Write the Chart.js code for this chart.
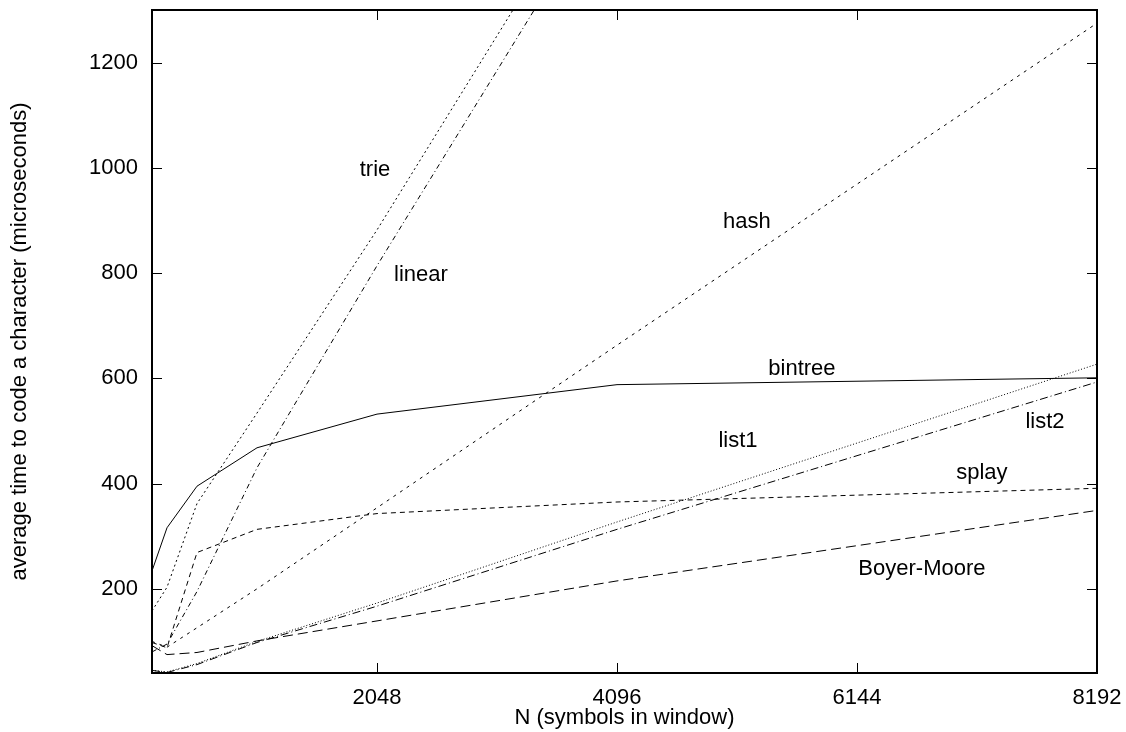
<!DOCTYPE html>
<html>
<head>
<meta charset="utf-8">
<script src="https://cdn.jsdelivr.net/npm/chart.js@4.4.0/dist/chart.umd.min.js"></script>
<style>
  html, body { margin:0; padding:0; background:#fff; }
</style>
</head>
<body>
<canvas id="chart" width="1126" height="732"></canvas>
<script>
// window sizes N (x values)
const windowSizes = [128, 256, 512, 1024, 2048, 4096, 8192];

// average time to code a character (microseconds)
const bintree    = [234, 316, 395, 468, 532, 588, 601];
const trie       = [158, 203, 362, 534, 882, 1620, 3100];
const linear     = [80, 95, 195, 430, 814, 1556, 3040];
const hash       = [100, 89, 126, 200, 354, 663, 1275];
const splay      = [98, 88, 269, 313, 343, 365, 391];
const boyerMoore = [92, 75, 79, 101, 139, 215, 349];
const list1      = [45, 42, 58, 100, 173, 327, 627];
const list2      = [45, 41, 56, 98, 167, 313, 593];

const xTicks = [2048, 4096, 6144, 8192];
const yTicks = [200, 400, 600, 800, 1000, 1200];

// curve names, anchored in data coordinates
const labelNames = ['trie', 'linear', 'hash', 'bintree', 'list1', 'list2', 'splay', 'Boyer-Moore'];
const labelN     = [2031, 2423, 5205, 5674, 5128, 7748, 7210, 6698];
const labelTime  = [996, 797, 898, 617, 481, 517, 420, 238];

const FONT = '"Liberation Sans", Arial, Helvetica, sans-serif';

function series(values, dash) {
    return {
        data: windowSizes.map((n, i) => ({x: n, y: values[i]})),
        borderColor: '#000',
        borderWidth: 1,
        borderDash: dash,
        pointRadius: 0,
        tension: 0,
        fill: false
    };
}

// frame, inward mirrored ticks and the curve names
const framePlugin = {
    id: 'frame',
    afterDraw(chart) {
        const {ctx, chartArea: a} = chart;
        const x = chart.scales.x, y = chart.scales.y;
        ctx.save();
        ctx.strokeStyle = '#000';
        ctx.setLineDash([]);
        ctx.lineWidth = 1;
        ctx.beginPath();
        xTicks.forEach(v => {
            const px = Math.round(x.getPixelForValue(v)) + 0.5;
            ctx.moveTo(px, a.bottom); ctx.lineTo(px, a.bottom - 10);
            ctx.moveTo(px, a.top); ctx.lineTo(px, a.top + 10);
        });
        yTicks.forEach(v => {
            const py = Math.round(y.getPixelForValue(v)) + 0.5;
            ctx.moveTo(a.left, py); ctx.lineTo(a.left + 10, py);
            ctx.moveTo(a.right, py); ctx.lineTo(a.right - 10, py);
        });
        ctx.stroke();
        ctx.lineWidth = 2;
        ctx.strokeRect(a.left, a.top, a.right - a.left, a.bottom - a.top);

        ctx.fillStyle = '#000';
        ctx.font = '22px ' + FONT;
        ctx.textAlign = 'center';
        ctx.textBaseline = 'middle';
        labelNames.forEach((t, i) => {
            ctx.fillText(t, x.getPixelForValue(labelN[i]), y.getPixelForValue(labelTime[i]));
        });
        ctx.restore();
    }
};

new Chart(document.getElementById('chart').getContext('2d'), {
    type: 'line',
    data: {
        datasets: [
            series(bintree, []),
            series(trie, [2, 3]),
            series(linear, [5, 3, 1, 3]),
            series(hash, [3, 5]),
            series(splay, [5, 4]),
            series(boyerMoore, [10, 5]),
            series(list1, [1, 2]),
            series(list2, [8, 3, 1, 3])
        ]
    },
    options: {
        responsive: false,
        animation: false,
        layout: {padding: {left: 0, right: 29, top: 10, bottom: 0}},
        plugins: {legend: {display: false}, tooltip: {enabled: false}},
        scales: {
            x: {
                type: 'linear', min: 128, max: 8192,
                grid: {display: false, drawTicks: false},
                border: {display: false},
                afterBuildTicks: s => { s.ticks = xTicks.map(v => ({value: v})); },
                afterFit: s => { s.height = 59; s.paddingLeft = 0; s.paddingRight = 0; },
                ticks: {padding: 12, color: '#000', maxRotation: 0, autoSkip: false,
                        font: {family: FONT, size: 22}, callback: v => String(v)},
                title: {display: true, text: 'N (symbols in window)', color: '#000',
                        font: {family: FONT, size: 22}, padding: {top: 0, bottom: 1}}
            },
            y: {
                min: 40, max: 1300,
                grid: {display: false, drawTicks: false},
                border: {display: false},
                afterBuildTicks: s => { s.ticks = yTicks.map(v => ({value: v})); },
                afterFit: s => { s.width = 152; s.paddingTop = 0; s.paddingBottom = 0; },
                ticks: {padding: 14, color: '#000', autoSkip: false,
                        font: {family: FONT, size: 22}, callback: v => String(v)},
                title: {display: true, text: 'average time to code a character (microseconds)', color: '#000',
                        font: {family: FONT, size: 22}, padding: {top: 7, bottom: 0}}
            }
        }
    },
    plugins: [framePlugin]
});
</script>
</body>
</html>
